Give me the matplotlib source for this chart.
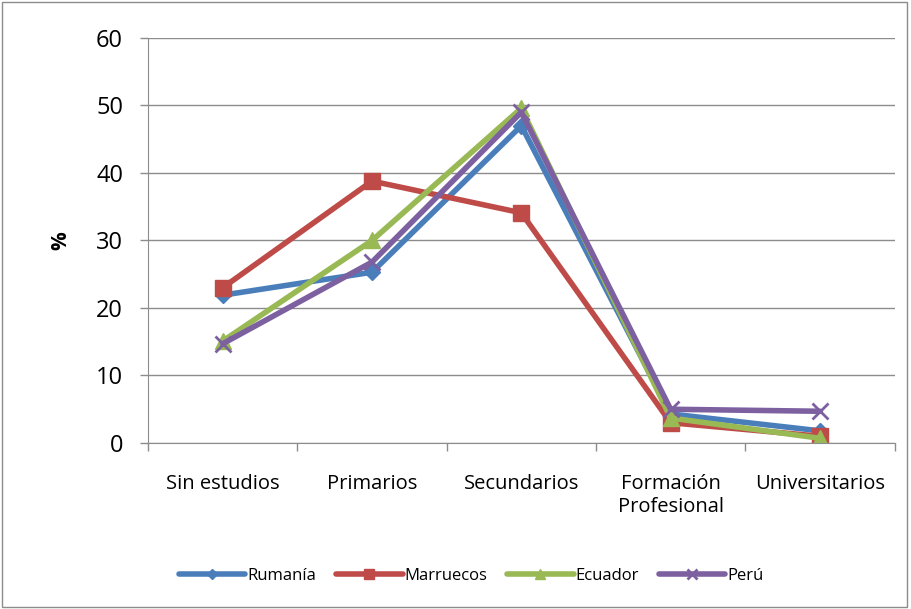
import matplotlib as mpl
mpl.use('Agg')
import matplotlib.pyplot as plt
from matplotlib.patches import Rectangle

plt.rcParams['font.family'] = ['Open Sans', 'DejaVu Sans']

categories = ['Sin estudios', 'Primarios', 'Secundarios', 'Formación\nProfesional', 'Universitarios']
rumania = [21.9, 25.3, 47.0, 4.3, 1.8]
marruecos = [23.0, 38.8, 34.1, 3.0, 1.0]
ecuador = [15.1, 30.0, 49.6, 3.7, 0.7]
peru = [14.7, 26.8, 49.0, 5.0, 4.7]

series = [
    ('Rumanía', rumania, '#4a7ebb', 'D', 8),
    ('Marruecos', marruecos, '#be4b48', 's', 11),
    ('Ecuador', ecuador, '#98b954', '^', 11),
    ('Perú', peru, '#7d60a0', 'x', 11),
]

fig = plt.figure(figsize=(9.11, 6.09), dpi=100)
ax = fig.add_axes([0.1625, 0.2726, 0.8195, 0.665])

xs = range(len(categories))
for name, vals, col, mk, ms in series:
    ax.plot(xs, vals, color=col, lw=4, marker=mk, markersize=ms,
            markeredgewidth=2 if mk == 'x' else 1, markeredgecolor=col,
            label=name, solid_capstyle='round')

ax.set_xlim(-0.5, len(categories) - 0.5)
ax.set_ylim(0, 60)
ax.set_yticks(range(0, 61, 10))
ax.yaxis.grid(True, color='#8c8c8c', lw=1)
ax.set_axisbelow(True)
ax.set_xticks([i + 0.5 for i in range(-1, len(categories))], minor=False)
ax.set_xticklabels([])
ax.set_xticks(list(xs), minor=True)
ax.set_xticklabels(categories, minor=True, fontsize=14.5, linespacing=1.25)
ax.tick_params(axis='x', which='major', length=6, color='#8c8c8c', width=1)
ax.tick_params(axis='x', which='minor', length=0, pad=22)
ax.tick_params(axis='y', length=6, color='#8c8c8c', width=1, labelsize=17, pad=12)
for s in ['top', 'right']:
    ax.spines[s].set_visible(False)
ax.spines['left'].set_color('#8c8c8c')
ax.spines['bottom'].set_color('#8c8c8c')
ax.set_ylabel('%', fontsize=15, fontweight='bold', labelpad=18)

leg = fig.legend(loc='center', bbox_to_anchor=(0.517, 0.054), ncol=4, frameon=False,
                 fontsize=12, handlelength=4.0, handletextpad=0.1, columnspacing=1.2,
                 markerscale=0.6)

fig.add_artist(Rectangle((0.002, 0.004), 0.994, 0.993, transform=fig.transFigure,
                         fill=False, edgecolor='#8c8c8c', lw=1))

fig.savefig('out.png', dpi=100)
